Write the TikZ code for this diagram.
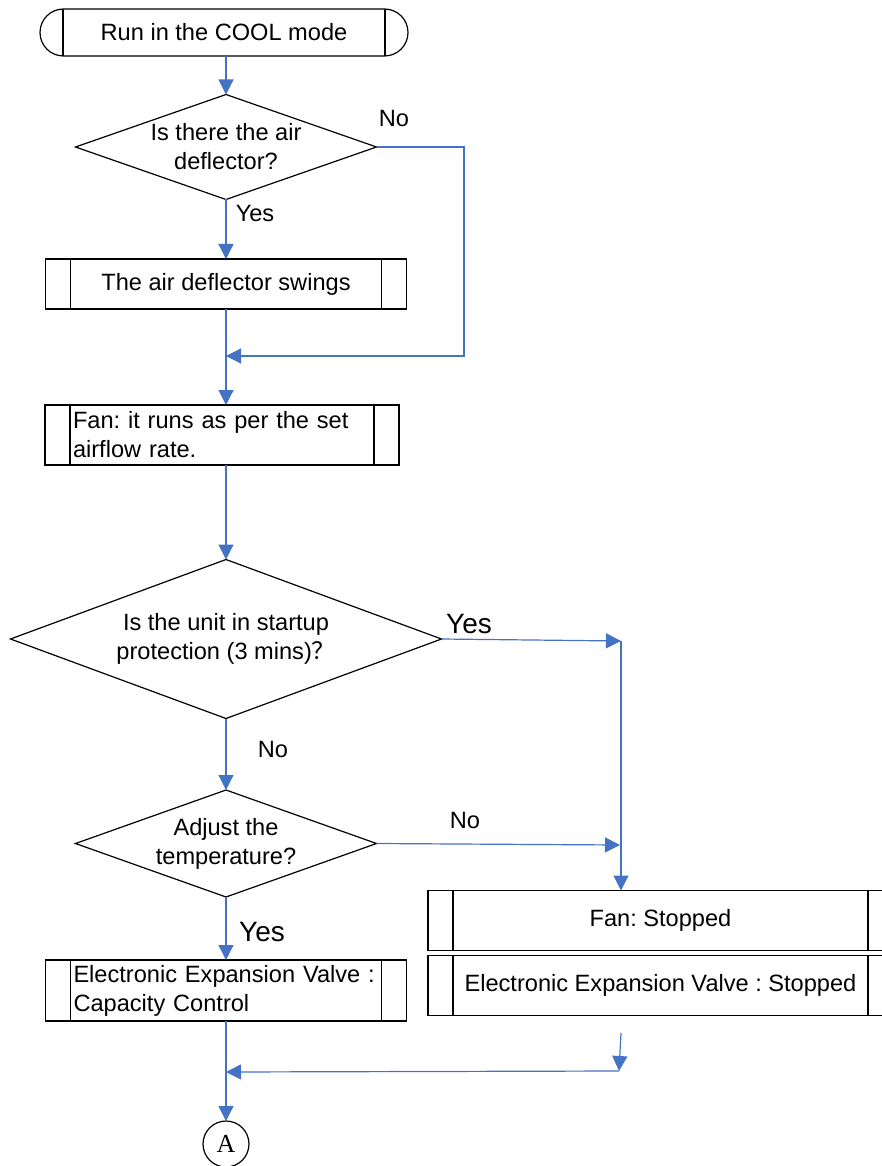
\documentclass[tikz,border=0pt]{standalone}
\usepackage{fontspec}
\setmainfont{Liberation Sans}
\newfontfamily\serifA{Liberation Serif}
\newfontfamily\cjkq{Noto Sans CJK SC}
\usepackage{xcolor}
\usetikzlibrary{positioning, arrows.meta, shapes.geometric}
\definecolor{flowblue}{RGB}{68,114,196}
\frenchspacing

\begin{document}
\begin{tikzpicture}[x=1pt, y=-1pt,
        font=\fontsize{23.6}{29}\selectfont,
        every node/.style={inner sep=0pt, outer sep=0pt},
        arr/.style={flowblue, line width=1.2pt, -{Triangle[length=15pt, width=15pt]}},
        inlines/.style={path picture={\draw[line width=1.2pt]
            ([xshift=#1]path picture bounding box.south west) -- ([xshift=#1]path picture bounding box.north west)
            ([xshift=-#1]path picture bounding box.south east) -- ([xshift=-#1]path picture bounding box.north east);}},
        term/.style={draw, line width=1.2pt, rounded corners=23.5pt, inlines=23pt},
        subbox/.style={draw, line width=1.2pt, rectangle, inlines=25pt},
        leftbox/.style={subbox, align=left, inner xsep=28pt},
        decision/.style={draw, line width=1.2pt, diamond, aspect=2.8, align=center, inner sep=-8pt},
        bigtxt/.style={font=\fontsize{28}{32}\selectfont}]
    \useasboundingbox (0,0) rectangle (882,1166);

    % left column
    \node[term, minimum width=368pt, minimum height=47pt] (start) at (224,32.5) {Run in the COOL mode};
    \node[decision, minimum width=301pt, minimum height=105pt] (q1) at (226,147) {Is there the air\\deflector?};
    \node[subbox, minimum width=361pt, minimum height=50pt] (swing) at (226,284) {The air deflector swings};
    \node[leftbox, text width=298pt, minimum height=60pt] (fan) at (222,435) {Fan: it runs as per the set\\airflow rate.};
    \node[decision, minimum width=431pt, minimum height=159pt] (q2) at (226,639) {Is the unit in startup\\protection (3 mins){\cjkq ？}};
    \node[decision, minimum width=301pt, minimum height=107pt] (q3) at (226,843.5) {Adjust the\\temperature?};
    \node[leftbox, text width=305pt, minimum height=61pt] (valve) at (226,990.5) {Electronic Expansion Valve :\\Capacity Control};
    \node[draw, circle, line width=1.2pt, minimum size=46pt, font=\serifA\fontsize{26}{30}\selectfont] (circA) at (226,1144) {A};

    % right column
    \node[subbox, minimum width=465pt, minimum height=60pt] (fanstop) at (660.5,920.5) {Fan: Stopped};
    \node[subbox, minimum width=465pt, minimum height=60pt] (evstop) at (660.5,985.5) {Electronic Expansion Valve : Stopped};

    \coordinate (r1) at (464,356);
    \coordinate (j1) at (226,356);
    \coordinate (k1) at (621,641);
    \coordinate (k2) at (620,845);
    \coordinate (k3) at (621,1033);
    \coordinate (k4) at (619,1071);
    \coordinate (j2) at (226,1072);

    % labels
    \node (no1) at (394,118) {No};
    \node (yes1) at (255,213) {Yes};
    \node[bigtxt] (yes2) at (469,624) {Yes};
    \node (no2) at (273,749) {No};
    \node (no3) at (465,820) {No};
    \node[bigtxt] (yes3) at (262,932) {Yes};

    % connectors
    \draw[arr] (start.south -| q1.north) -- (q1.north);
    \draw[arr] (q1.south) -- (swing.north);
    \draw[arr] (q1.east) -| (r1) -- (j1);
    \draw[arr] (swing.south) -- (fan.north -| swing.south);
    \draw[arr] (fan.south -| q2.north) -- (q2.north);
    \draw[arr] (q2.east) -- (k1);
    \draw[arr] (k1) -- (fanstop.north -| k1);
    \draw[arr] (q2.south) -- (q3.north);
    \draw[arr] (q3.east) -- (k2);
    \draw[arr] (q3.south) -- (valve.north);
    \draw[arr] (k3) -- (k4);
    \draw[arr] (k4) -- (j2);
    \draw[arr] (valve.south) -- (circA.north);
\end{tikzpicture}
\end{document}
